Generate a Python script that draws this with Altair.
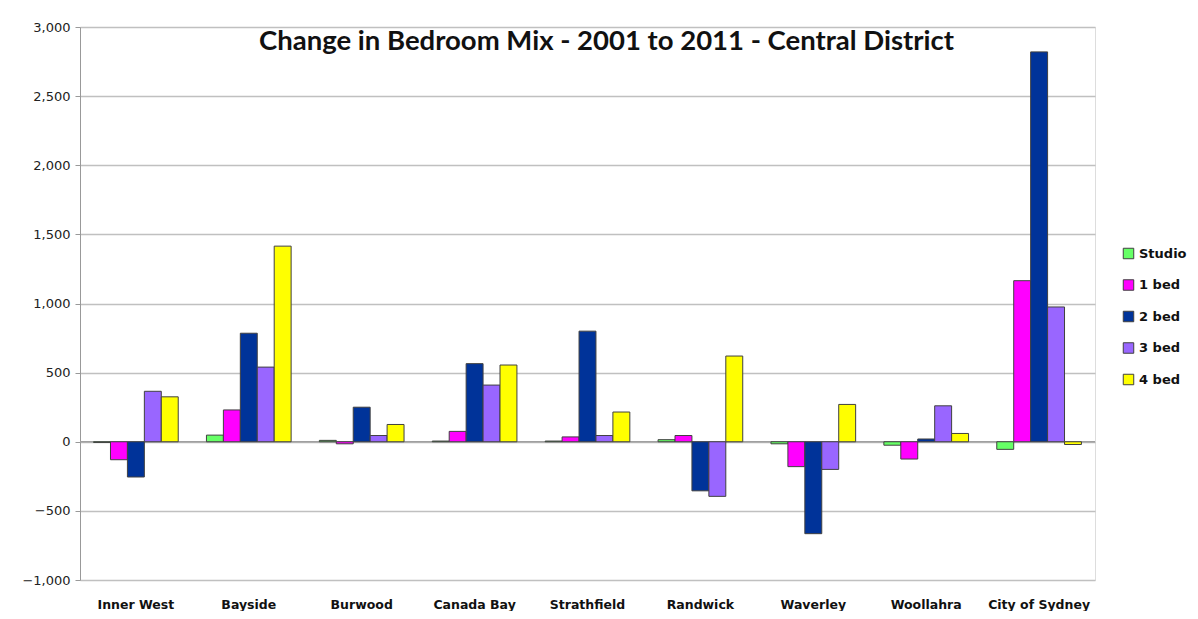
import altair as alt
import pandas as pd

categories = ["Inner West", "Bayside", "Burwood", "Canada Bay", "Strathfield",
              "Randwick", "Waverley", "Woollahra", "City of Sydney"]
series = ["Studio", "1 bed", "2 bed", "3 bed", "4 bed"]
studio = [-5, 48, 10, 5, 5, 15, -15, -25, -55]
bed1 = [-130, 230, -15, 75, 35, 45, -180, -125, 1165]
bed2 = [-255, 785, 250, 565, 800, -355, -665, 20, 2820]
bed3 = [365, 540, 45, 410, 45, -395, -200, 260, 975]
bed4 = [325, 1415, 125, 555, 215, 620, 270, 60, -20]
colors = ["#66ff66", "#ff00ff", "#003399", "#9966ff", "#ffff00"]
y_ticks = [-1000, -500, 0, 500, 1000, 1500, 2000, 2500, 3000]

rows = []
for s, vals in zip(series, [studio, bed1, bed2, bed3, bed4]):
    for c, v in zip(categories, vals):
        rows.append({"Area": c, "Type": s, "Change": v})
df = pd.DataFrame(rows)

zero = alt.Chart(pd.DataFrame({"y": [0]})).mark_rule(color="#a0a0a0", strokeWidth=1.5).encode(
    y=alt.Y("y:Q")
)

bars = alt.Chart(df).mark_bar(stroke="#404040", strokeWidth=1).encode(
    x=alt.X("Area:N", sort=categories, title=None,
            scale=alt.Scale(paddingInner=0.25, paddingOuter=0.12),
            axis=alt.Axis(labelAngle=0, labelFont="DejaVu Sans", labelFontWeight="bold",
                          labelFontSize=12.5, labelColor="#111", labelPadding=18,
                          ticks=False, domain=False)),
    xOffset=alt.XOffset("Type:N", sort=series),
    y=alt.Y("Change:Q", title=None,
            scale=alt.Scale(domain=[-1000, 3000], nice=False),
            axis=alt.Axis(values=y_ticks, format=",.0f",
                          labelFont="DejaVu Sans",
                          labelFontSize=13, labelColor="#222", labelPadding=5,
                          tickColor="#999", tickSize=5, domainColor="#999",
                          grid=True, gridColor="#c0c0c0", gridWidth=1.5)),
    color=alt.Color("Type:N", sort=series,
                    scale=alt.Scale(domain=series, range=colors),
                    legend=alt.Legend(title=None, orient="none", legendX=1042, legendY=220,
                                      symbolType="square", symbolSize=110,
                                      symbolStrokeColor="#404040", symbolStrokeWidth=1,
                                      labelFont="DejaVu Sans", labelFontWeight="bold",
                                      labelFontSize=13, labelColor="#111",
                                      rowPadding=16.5, labelOffset=4)),
)

chart = alt.layer(zero, bars).properties(
    width=1015, height=553,
    padding={"left": 72, "top": 19, "right": 95, "bottom": 31},
    autosize=alt.AutoSizeParams(type="none"),
    title=alt.TitleParams("Change in Bedroom Mix - 2001 to 2011 - Central District",
                          font="Lato", fontSize=27.5, fontWeight="bold", color="#111",
                          anchor="middle", offset=-34, dx=19),
).configure_view(fill="#f2f2f2", stroke="#c0c0c0").configure(background="white")

chart.save("out.html", embed_options={"renderer": "svg", "actions": False})
